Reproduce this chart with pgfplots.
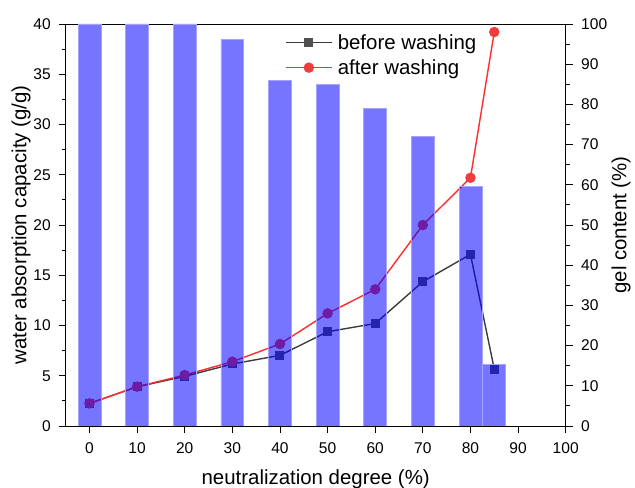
\documentclass[border=0pt]{standalone}
\usepackage{fontspec}
\setmainfont{Liberation Sans}
\usepackage{pgfplots}
\pgfplotsset{compat=1.18}
\definecolor{barblue}{RGB}{0,0,255}
\definecolor{baredge}{RGB}{165,165,255}
\definecolor{befgray}{RGB}{60,60,60}
\definecolor{befmark}{RGB}{80,80,80}
\definecolor{aftred}{RGB}{255,45,45}
\definecolor{aftmark}{RGB}{240,60,60}
\begin{document}
\begin{tikzpicture}
\pgfplotsset{
  common/.style={
    width=500bp, height=402bp, scale only axis,
    xmin=-5, xmax=100,
    tick align=outside,
    major tick length=7bp, minor tick length=4bp,
    tick style={black, line width=0.8bp},
    axis line style={black, line width=0.9bp},
    tick label style={font=\fontsize{15.6}{18}\selectfont},
    label style={font=\fontsize{20.5}{24}\selectfont},
    /pgf/number format/assume math mode=true,
  },
}
\begin{axis}[common,
  ymin=0, ymax=40,
  ytick={0,5,...,40}, minor y tick num=1,
  xtick={0,10,...,100},
  xtick pos=left, ytick pos=left,
  xticklabel style={yshift=-6bp},
  yticklabel style={xshift=-4.5bp},
  xlabel={neutralization degree (\%)},
  ylabel={water absorption capacity (g/g)},
  xlabel style={at={(axis description cs:0.5,-0.132)}, anchor=center},
  ylabel style={at={(axis description cs:-0.089,0.5)}, anchor=center},
  legend style={at={(axis description cs:0.432,0.985)}, anchor=north west,
    draw=none, fill=none, font=\fontsize{20.5}{24}\selectfont,
    row sep=5bp, nodes={inner xsep=5bp}},
  legend cell align=left,
  legend image code/.code={
    \draw[line width=1.4bp, mark repeat=2,mark phase=2] plot coordinates {(0cm,0cm) (0.82cm,0cm) (1.64cm,0cm)};
  },
]
\addplot[color=befgray, line width=1.4bp, mark=square*, mark size=3.8bp,
  mark options={fill=befmark, draw=befmark}]
  coordinates {(0,2.25)(10,3.9)(20,4.94)(30,6.17)(40,7.03)(50,9.38)(60,10.2)(70,14.36)(80,17.08)(85,5.67)};
\addlegendentry{before washing}
\addplot[color=aftred, line width=1.4bp, mark=*, mark size=4.5bp,
  mark options={fill=aftmark, draw=aftmark}]
  coordinates {(0,2.25)(10,3.91)(20,5.07)(30,6.40)(40,8.16)(50,11.2)(60,13.6)(70,20.0)(80,24.7)(85,39.2)};
\addlegendentry{after washing}
\end{axis}
\begin{axis}[common,
  ymin=0, ymax=100,
  ytick={0,10,...,100}, minor y tick num=1,
  axis y line*=right, axis x line=none,
  yticklabel style={xshift=5bp},
  ylabel={gel content (\%)},
  ylabel style={at={(axis description cs:1.111,0.5)}, anchor=center},
]
\addplot[ybar, bar width=4.8, bar shift=0pt, fill=barblue, fill opacity=0.54,
  draw=baredge, line width=0.7bp]
  coordinates {(0,100)(10,100)(20,100)(30,96.1)(40,86.0)(50,84.9)(60,79.0)(70,72.0)(80,59.7)(85,15.3)};
\end{axis}
\pgfresetboundingbox
\path[use as bounding box] (-65.7bp,-62bp) rectangle (569.3bp,426bp);
\end{tikzpicture}
\end{document}
